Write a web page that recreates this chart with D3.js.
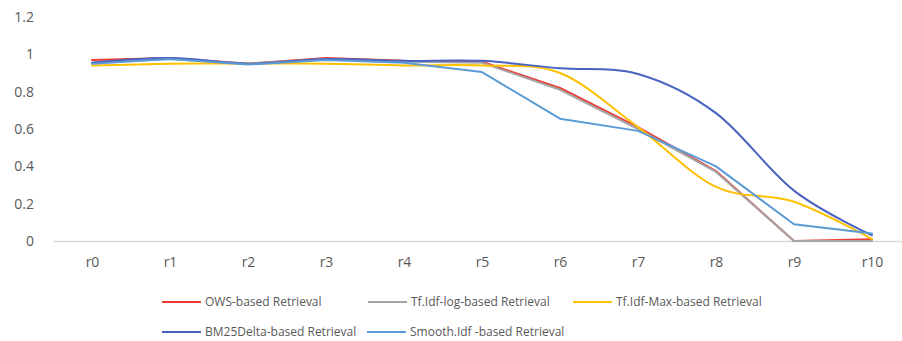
<!DOCTYPE html>
<html>
<head>
<meta charset="utf-8">
<script src="https://cdn.jsdelivr.net/npm/d3@7"></script>
<style>
  html, body { margin: 0; padding: 0; background: #ffffff; }
  svg { display: block; font-family: "Open Sans", "Liberation Sans", sans-serif; }
</style>
</head>
<body>
<svg id="chart" width="902" height="341"></svg>
<script>
// Retrieval levels along the x axis
const categories = ["r0", "r1", "r2", "r3", "r4", "r5", "r6", "r7", "r8", "r9", "r10"];

// Precision per retrieval model
const owsValues       = [0.97, 0.98, 0.95, 0.98, 0.965, 0.96, 0.82, 0.61, 0.375, 0.0, 0.01];
const tfidfLogValues  = [0.955, 0.975, 0.95, 0.975, 0.96, 0.955, 0.81, 0.60, 0.37, 0.0, 0.0];
const tfidfMaxValues  = [0.94, 0.95, 0.95, 0.95, 0.94, 0.94, 0.90, 0.61, 0.29, 0.21, 0.01];
const bm25DeltaValues = [0.955, 0.98, 0.95, 0.975, 0.965, 0.965, 0.925, 0.895, 0.685, 0.27, 0.03];
const smoothIdfValues = [0.95, 0.975, 0.945, 0.97, 0.955, 0.905, 0.655, 0.59, 0.40, 0.09, 0.04];

// Y axis tick values
const yTicks = [0, 0.2, 0.4, 0.6, 0.8, 1, 1.2];

const series = [
  { name: "OWS-based Retrieval",        values: owsValues,       color: "#ee3b33", smooth: false },
  { name: "Tf.Idf-log-based Retrieval", values: tfidfLogValues,  color: "#a5a5a5", smooth: false },
  { name: "Tf.Idf-Max-based Retrieval", values: tfidfMaxValues,  color: "#ffc000", smooth: true  },
  { name: "BM25Delta-based Retrieval",  values: bm25DeltaValues, color: "#4863c0", smooth: true  },
  { name: "Smooth.Idf -based Retrieval", values: smoothIdfValues, color: "#5b9bd5", smooth: false }
];

const svg = d3.select("#chart");
const textColor = "#595959";

const x = d3.scalePoint().domain(categories).range([53, 911]).padding(0.5);
const y = d3.scaleLinear().domain([0, 1.2]).range([241, 17]);

// Y axis labels (no line, no ticks)
const yAxis = svg.append("g")
  .attr("transform", "translate(34,0)")
  .call(d3.axisLeft(y).tickValues(yTicks).tickSize(0).tickPadding(0).tickFormat(d => String(d)));
yAxis.select(".domain").remove();
yAxis.selectAll("text")
  .attr("fill", textColor)
  .style("font-size", "14px")
  .style("font-family", "'Open Sans', sans-serif");

// X axis baseline and category labels
const xAxis = svg.append("g")
  .attr("transform", `translate(0,${y(0)})`)
  .call(d3.axisBottom(x).tickSize(0).tickPadding(16).tickSizeOuter(0));
xAxis.select(".domain")
  .attr("stroke", "#d9d9d9")
  .attr("stroke-width", 1.5);
xAxis.selectAll("text")
  .attr("fill", textColor)
  .style("font-size", "14px")
  .style("font-family", "'Open Sans', sans-serif");

// Series lines
const lineFor = smooth => d3.line()
  .x((d, i) => x(categories[i]))
  .y(d => y(d))
  .curve(smooth ? d3.curveCatmullRom.alpha(0) : d3.curveLinear);

svg.append("g")
  .selectAll("path")
  .data(series)
  .join("path")
  .attr("d", s => lineFor(s.smooth)(s.values))
  .attr("fill", "none")
  .attr("stroke", s => s.color)
  .attr("stroke-width", 2)
  .attr("stroke-linejoin", "round")
  .attr("stroke-linecap", "round");

// Legend
const legendRows = [
  [{ s: series[0], x: 162 }, { s: series[1], x: 368 }, { s: series[2], x: 573 }],
  [{ s: series[3], x: 162 }, { s: series[4], x: 367 }]
];
const legendY = [302, 332];
const legend = svg.append("g");
legendRows.forEach((row, r) => {
  row.forEach(item => {
    const g = legend.append("g").attr("transform", `translate(${item.x},${legendY[r]})`);
    g.append("line")
      .attr("x1", 0).attr("x2", 39)
      .attr("y1", 0).attr("y2", 0)
      .attr("stroke", item.s.color)
      .attr("stroke-width", 2);
    g.append("text")
      .attr("x", 43)
      .attr("y", 0)
      .attr("dy", "0.35em")
      .attr("fill", textColor)
      .style("font-size", "12px")
      .text(item.s.name);
  });
});
</script>
</body>
</html>
